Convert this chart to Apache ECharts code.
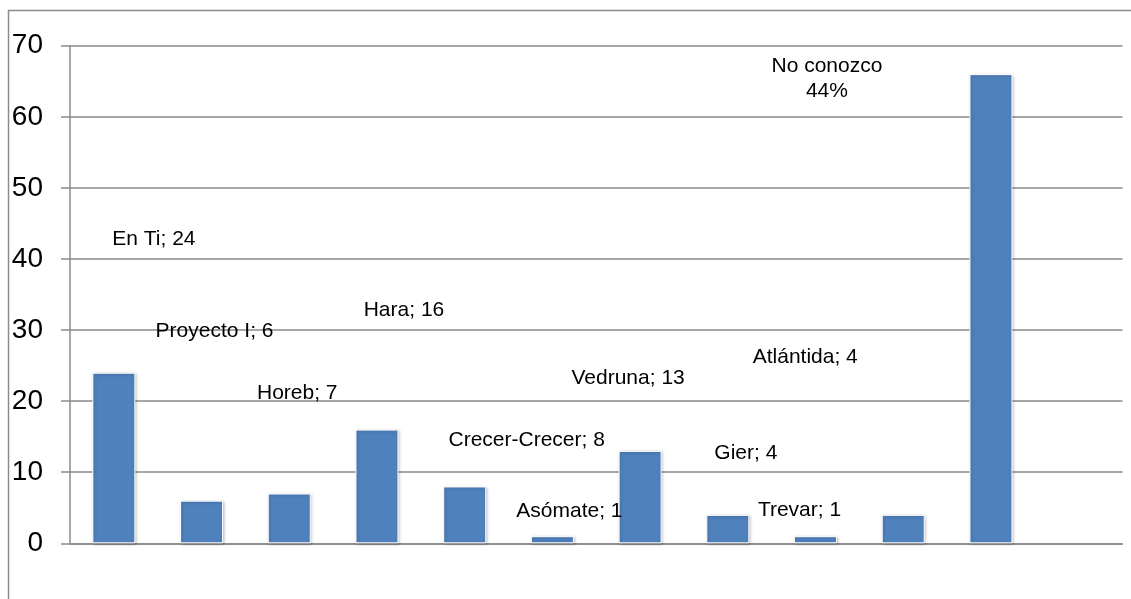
<!DOCTYPE html>
<html>
<head>
<meta charset="utf-8">
<script src="https://cdn.jsdelivr.net/npm/echarts@6/dist/echarts.min.js"></script>
<style>
html,body{margin:0;padding:0;background:#fff;}
#c{width:1131px;height:599px;}
</style>
</head>
<body>
<div id="c"></div>
<script>
const categories = ['En Ti','Proyecto I','Horeb','Hara','Crecer-Crecer','Asómate','Vedruna','Gier','Trevar','Atlántida','No conozco',''];
const values = [24,6,7,16,8,1,13,4,1,4,66,null];
const labelTexts = ['En Ti; 24','Proyecto I; 6','Horeb; 7','Hara; 16','Crecer-Crecer; 8','Asómate; 1','Vedruna; 13','Gier; 4','Trevar; 1','Atlántida; 4','No conozco\n44%',''];
const yTicks = [0,10,20,30,40,50,60,70];
// label offsets (style) relative to bar top centre
const labelOffsets = [[40,-133],[13,-169],[8,-100],[27,-119],[62,-46],[17,-25],[-12,-73],[18,-62],[-16,-26],[-98,-158],[-164,5],[0,0]];

const chart = echarts.init(document.getElementById('c'), null, {renderer:'canvas'});
const data = values.map((v,i)=>({
  value: v,
  label: {
    show: v !== null,
    formatter: labelTexts[i],
    position: ['50%', 0],
    align: 'center',
    verticalAlign: 'middle',
    offset: labelOffsets[i]
  }
}));
chart.setOption({
  animation: false,
  backgroundColor: '#fff',
  textStyle: {fontFamily: 'Liberation Sans, Arial, sans-serif'},
  graphic: [{
    type: 'rect',
    shape: {x: 8.5, y: 10.5, width: 1300, height: 800},
    style: {fill: 'none', stroke: '#8a8a8a', lineWidth: 1.5},
    silent: true
  }],
  grid: {left: 70, right: 8.5, top: 45.7, bottom: 55.7, containLabel: false},
  xAxis: {
    type: 'category',
    data: categories,
    axisLine: {lineStyle: {color: '#888', width: 1.5}},
    axisTick: {show: false},
    axisLabel: {show: false}
  },
  yAxis: {
    type: 'value',
    min: yTicks[0],
    max: yTicks[yTicks.length-1],
    interval: 10,
    axisLine: {show: true, lineStyle: {color: '#8a8a8a', width: 1.5}},
    axisTick: {show: true, length: 9, lineStyle: {color: '#8a8a8a', width: 1.5}},
    axisLabel: {color: '#000', fontSize: 28, margin: 27, fontFamily: 'Liberation Sans, Arial, sans-serif'},
    splitLine: {lineStyle: {color: '#8a8a8a', width: 1.5}}
  },
  series: [{
    type: 'bar',
    data: data,
    barWidth: 43,
    itemStyle: {
      color: '#4F81BD',
      borderColor: '#fff',
      borderWidth: 1,
      shadowBlur: 3,
      shadowColor: 'rgba(0,0,0,0.25)',
      shadowOffsetX: 1,
      shadowOffsetY: 1
    },
    label: {
      color: '#000',
      fontSize: 21,
      lineHeight: 25,
      fontFamily: 'Liberation Sans, Arial, sans-serif'
    }
  }]
});
</script>
</body>
</html>
